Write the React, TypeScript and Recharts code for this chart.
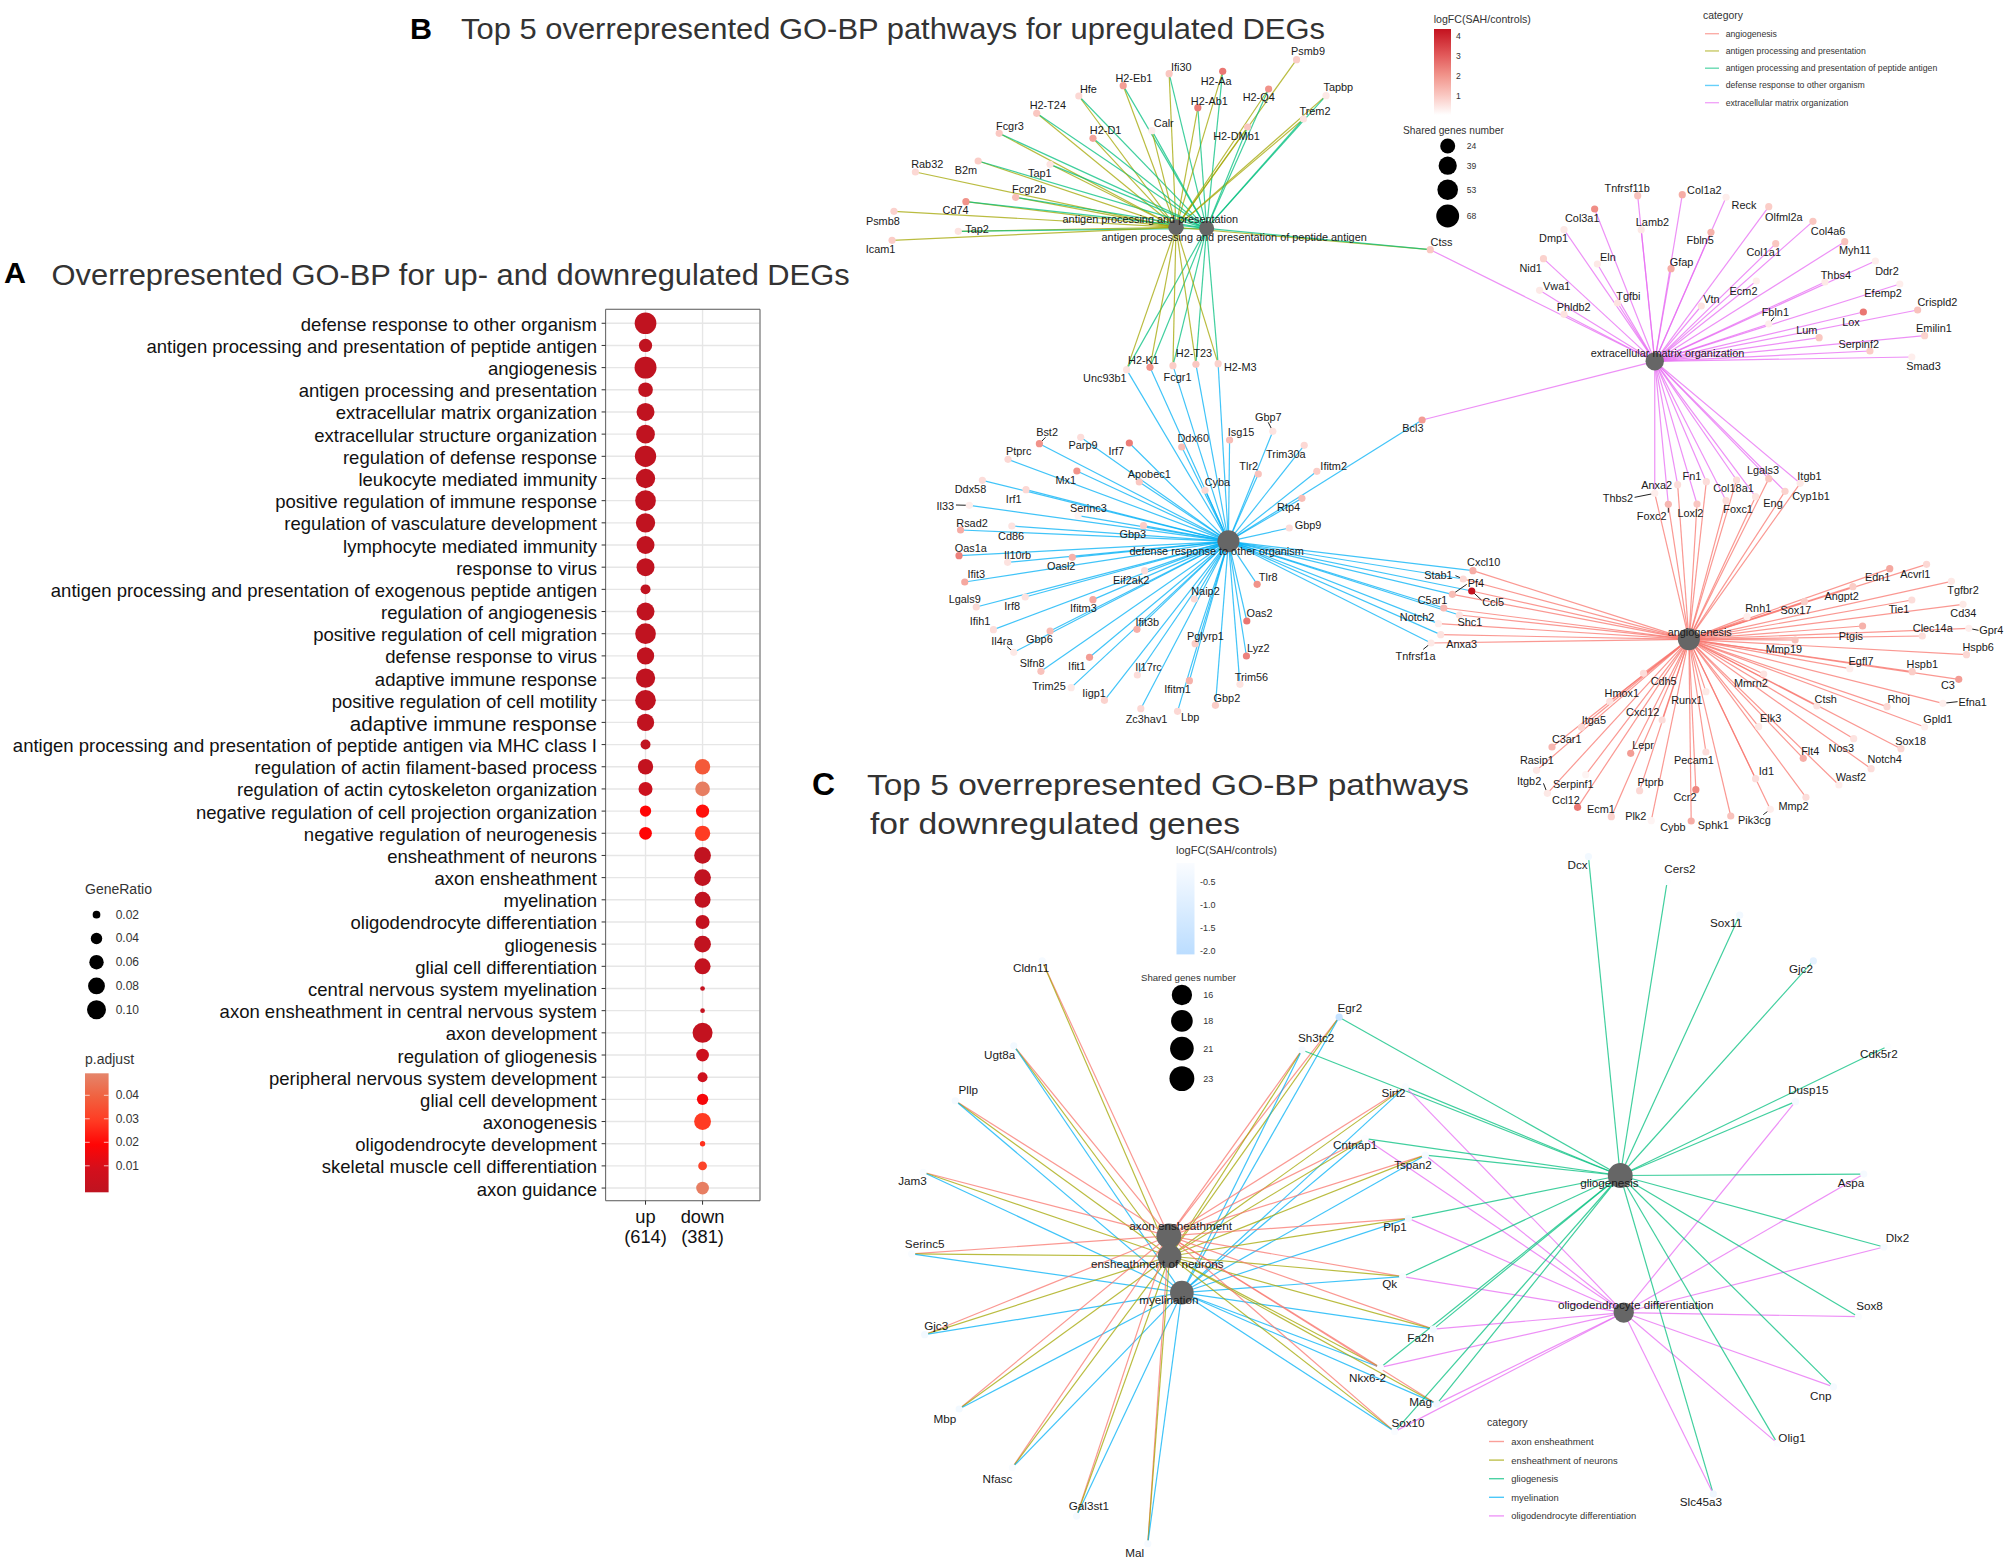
// App.tsx - GO-BP dot plot (A) and gene-concept networks (B, C)
import { CartesianGrid, ReferenceArea, Scatter, ScatterChart, XAxis, YAxis } from "recharts";

const FONT = "'Liberation Sans', Arial, sans-serif";

// ---------- panel A ----------
const terms = [
  "defense response to other organism", "antigen processing and presentation of peptide antigen", "angiogenesis",
  "antigen processing and presentation", "extracellular matrix organization", "extracellular structure organization",
  "regulation of defense response", "leukocyte mediated immunity", "positive regulation of immune response",
  "regulation of vasculature development", "lymphocyte mediated immunity", "response to virus",
  "antigen processing and presentation of exogenous peptide antigen", "regulation of angiogenesis",
  "positive regulation of cell migration", "defense response to virus", "adaptive immune response",
  "positive regulation of cell motility", "adaptive immune response",
  "antigen processing and presentation of peptide antigen via MHC class I", "regulation of actin filament-based process",
  "regulation of actin cytoskeleton organization", "negative regulation of cell projection organization",
  "negative regulation of neurogenesis", "ensheathment of neurons", "axon ensheathment", "myelination",
  "oligodendrocyte differentiation", "gliogenesis", "glial cell differentiation", "central nervous system myelination",
  "axon ensheathment in central nervous system", "axon development", "regulation of gliogenesis",
  "peripheral nervous system development", "glial cell development", "axonogenesis", "oligodendrocyte development",
  "skeletal muscle cell differentiation", "axon guidance",
];
const upRatio = [.128, .052, .131, .062, .09, .097, .124, .103, .117, .103, .09, .09, .031, .09, .117, .084, .103, .117, .084, .031, .067, .057, .039, .048];
const upPadj = [.0005, .0005, .0005, .0005, .0005, .0005, .0005, .0005, .0005, .0005, .0005, .0005, .0005, .0005, .0005, .0005, .0005, .0005, .0005, .001, .002, .006, .02, .02];
const downRatio = [.067, .062, .052, .067, .079, .079, .073, .057, .079, .073, .009, .009, .11, .048, .031, .039, .08, .011, .025, .048];
const downPadj = [.038, .048, .022, .03, .001, .001, .001, .002, .001, .002, .003, .003, .002, .006, .007, .018, .03, .028, .032, .048];
const groupLabels = [["up", "(614)"], ["down", "(381)"]];
const ratioLegend = [.02, .04, .06, .08, .1];
const padjLegend = [.04, .03, .02, .01];

const mix = (stops: [number, string][], v: number) => {
  const s = [...stops].sort((a, b) => a[0] - b[0]);
  if (v <= s[0][0]) return s[0][1];
  for (let i = 1; i < s.length; i++) {
    if (v <= s[i][0]) {
      const t = (v - s[i - 1][0]) / (s[i][0] - s[i - 1][0]);
      const a = s[i - 1][1], b = s[i][1];
      const c = [1, 3, 5].map((p) => {
        const ca = parseInt(a.slice(p, p + 2), 16), cb = parseInt(b.slice(p, p + 2), 16);
        return Math.round(ca + (cb - ca) * t);
      });
      return `rgb(${c.join(",")})`;
    }
  }
  return s[s.length - 1][1];
};
const padjStops: [number, string][] = [[0, "#BF1320"], [.01, "#D40F1C"], [.02, "#FF0505"], [.03, "#FF3B23"], [.04, "#F1613F"], [.05, "#E5856B"]];
const upStops: [number, string][] = [[0, "#FFFFFF"], [1, "#FAC7C1"], [2, "#F1938A"], [3, "#E2595A"], [4.3, "#C4121F"]];
const downStops: [number, string][] = [[-2.1, "#BBDDFF"], [0, "#FFFFFF"]];
const ratioD = (r: number) => 64.6 * Math.sqrt(r) - 1.43;

const dotRows = [
  ...upRatio.map((ratio, i) => ({ x: 1, y: i + 1, ratio, padj: upPadj[i] })),
  ...downRatio.map((ratio, i) => ({ x: 2, y: i + 21, ratio, padj: downPadj[i] })),
];

// ---------- networks: [gene, node x, node y, label x, label y, logFC, categories] ----------
type G = [string, number, number, number, number, number, string];
type Area = { x0: number; y0: number; sx: number; sy: number };
const areaB1: Area = { x0: 840, y0: 0, sx: 2.613, sy: 3 };
const areaB2: Area = { x0: 1400, y0: 0, sx: 2.579, sy: 3 };
const areaB3: Area = { x0: 840, y0: 380, sx: 2.613, sy: 3 };
const areaB4: Area = { x0: 1400, y0: 400, sx: 2.579, sy: 3 };
const areaC1: Area = { x0: 860, y0: 840, sx: 2.613, sy: 2.167 };
const areaC2: Area = { x0: 1400, y0: 840, sx: 2.579, sy: 2.167 };

const antigenGenes: G[] = [
  ["Psmb9", 1193, 179, 1223, 153, .9, "a"], ["Ifi30", 860, 221, 892, 200, 1, "aq"], ["H2-Aa", 1000, 214, 983, 243, 2.5, "aq"],
  ["H2-Eb1", 740, 257, 768, 235, 1.8, "aq"], ["Hfe", 624, 288, 649, 266, .7, "aq"], ["H2-T24", 514, 340, 543, 315, 1, "aq"],
  ["H2-Ab1", 935, 323, 965, 303, 2.4, "aq"], ["H2-Q4", 1120, 267, 1094, 291, 2, "aq"], ["Tapbp", 1270, 287, 1302, 262, .4, "aq"],
  ["Trem2", 1211, 357, 1241, 334, .5, "aq"], ["Fcgr3", 416, 400, 444, 377, 1, "aq"], ["H2-D1", 661, 415, 694, 389, 1.7, "aq"],
  ["Calr", 815, 392, 846, 370, .3, "aq"], ["H2-DMb1", 1065, 381, 1036, 407, 1, "aq"], ["B2m", 361, 483, 329, 511, .9, "aq"],
  ["Rab32", 197, 516, 228, 492, .7, "a"], ["Tap1", 549, 493, 522, 518, .5, "aq"], ["Fcgr2b", 459, 592, 494, 566, 1.2, "aq"],
  ["Cd74", 329, 605, 302, 631, 2, "aq"], ["Psmb8", 141, 634, 112, 662, .8, "a"], ["Tap2", 309, 694, 358, 686, .5, "aq"],
  ["Icam1", 136, 721, 106, 747, .9, "a"], ["Unc93b1", 749, 1109, 692, 1135, .5, "aqd"], ["H2-K1", 810, 1102, 793, 1080, 2, "aqd"],
  ["Fcgr1", 870, 1097, 882, 1132, .9, "aqd"], ["H2-T23", 930, 1093, 925, 1060, 1, "aqd"], ["H2-M3", 988, 1091, 1046, 1100, .8, "aqd"],
];
const matrixGenes: G[] = [
  ["Ctss", 78, 749, 107, 726, 1, "aqe"], ["Tnfrsf11b", 613, 587, 586, 565, 1.1, "e"], ["Col1a2", 728, 584, 785, 571, 1.5, "e"],
  ["Reck", 841, 592, 887, 614, .3, "e"], ["Olfml2a", 951, 620, 990, 652, .9, "e"], ["Col3a1", 502, 627, 470, 655, 2.1, "e"],
  ["Lamb2", 622, 689, 651, 665, .4, "e"], ["Dmp1", 423, 689, 396, 715, .4, "e"], ["Col4a6", 1065, 664, 1104, 694, 1, "e"],
  ["Fbln5", 802, 697, 774, 721, 1.4, "e"], ["Col1a1", 969, 731, 938, 755, 1, "e"], ["Myh11", 1147, 725, 1173, 750, 1.1, "e"],
  ["Nid1", 370, 776, 337, 803, .8, "e"], ["Eln", 509, 792, 536, 770, .4, "e"], ["Gfap", 699, 806, 726, 786, 1.5, "e"],
  ["Ddr2", 1226, 783, 1256, 812, .3, "e"], ["Ecm2", 919, 843, 886, 873, .3, "e"], ["Thbs4", 1096, 846, 1124, 824, .4, "e"],
  ["Vwa1", 360, 871, 404, 859, .4, "e"], ["Efemp2", 1289, 852, 1246, 880, .3, "e"], ["Vtn", 777, 918, 803, 896, .5, "e"],
  ["Tgfbi", 561, 909, 589, 888, .5, "e"], ["Phldb2", 423, 943, 448, 922, .5, "e"], ["Crispld2", 1335, 930, 1386, 906, 1.1, "e"],
  ["Lox", 1195, 936, 1163, 965, 2.5, "e"], ["Fbln1", 951, 972, 968, 936, .3, "e"], ["Lum", 1081, 1013, 1049, 989, 1, "e"],
  ["Emilin1", 1353, 1007, 1377, 985, .8, "e"], ["Serpinf2", 1212, 1053, 1183, 1031, .9, "e"], ["Smad3", 1320, 1071, 1350, 1098, .3, "e"],
];
const defenseGenes: G[] = [
  ["Bst2", 521, 191, 541, 155, 2, "d"], ["Parp9", 629, 172, 635, 196, .6, "d"], ["Irf7", 756, 189, 722, 213, 2.4, "d"],
  ["Ddx60", 893, 201, 923, 175, 1.2, "d"], ["Isg15", 1018, 180, 1048, 157, 1.2, "d"], ["Gbp7", 1131, 154, 1119, 110, .5, "d"],
  ["Trim30a", 1213, 196, 1165, 222, .7, "d"], ["Ptprc", 439, 238, 467, 214, .7, "d"], ["Tlr2", 1093, 282, 1068, 257, 1.1, "d"],
  ["Ifitm2", 1246, 274, 1290, 258, .9, "d"], ["Mx1", 619, 273, 590, 300, 2, "d"], ["Apobec1", 782, 306, 808, 283, 1, "d"],
  ["Cyba", 954, 331, 986, 307, .7, "d"], ["Ddx58", 372, 301, 341, 328, .6, "d"], ["Irf1", 486, 329, 454, 356, .7, "d"],
  ["Rtp4", 1207, 355, 1172, 382, 1.2, "d"], ["Il33", 338, 376, 275, 377, .3, "d"], ["Serinc3", 622, 407, 649, 384, .2, "d"],
  ["Gbp3", 793, 437, 765, 462, .9, "d"], ["Rsad2", 315, 450, 345, 428, 1.5, "d"], ["Cd86", 449, 438, 447, 468, .5, "d"],
  ["Gbp9", 1174, 444, 1223, 434, .6, "d"], ["Oas1a", 311, 527, 342, 503, 2.3, "d"], ["Il10rb", 438, 547, 464, 526, .5, "d"],
  ["Oasl2", 607, 532, 578, 558, 1.4, "d"], ["Ifit3", 326, 606, 356, 581, 1.6, "d"], ["Eif2ak2", 796, 572, 761, 601, .6, "d"],
  ["Tlr8", 1090, 613, 1119, 591, 2, "d"], ["Naip2", 926, 657, 955, 633, .7, "d"], ["Lgals9", 356, 681, 326, 657, .7, "d"],
  ["Irf8", 484, 651, 450, 678, .5, "d"], ["Ifitm3", 661, 659, 636, 684, 1.6, "d"], ["Oas2", 1063, 723, 1096, 699, 2.5, "d"],
  ["Ifih1", 401, 749, 366, 722, .6, "d"], ["Gbp6", 549, 753, 521, 778, 1.2, "d"], ["Ifit3b", 776, 748, 803, 725, 1.5, "d"],
  ["Pglyrp1", 928, 791, 955, 769, .9, "d"], ["Il4ra", 454, 817, 423, 784, .4, "d"], ["Lyz2", 1062, 828, 1093, 805, 2.3, "d"],
  ["Slfn8", 525, 874, 502, 849, 1.1, "d"], ["Ifit1", 652, 832, 619, 858, 1.8, "d"], ["Il17rc", 777, 885, 806, 861, .6, "d"],
  ["Trim56", 1045, 913, 1075, 891, .5, "d"], ["Ifitm1", 913, 902, 882, 928, 1.4, "d"], ["Trim25", 604, 923, 546, 919, .4, "d"],
  ["Iigp1", 691, 961, 664, 940, .8, "d"], ["Gbp2", 981, 976, 1011, 954, .9, "d"], ["Lbp", 882, 994, 915, 1010, .7, "d"],
  ["Zc3hav1", 786, 986, 801, 1017, .7, "d"], ["Bcl3", 1521, 120, 1497, 145, 1.8, "de"],
];
const angioGenes: G[] = [
  ["Cxcl10", 188, 512, 216, 487, 1.5, "dA"], ["Stab1", 163, 537, 99, 524, .7, "dA"], ["Pf4", 135, 583, 196, 550, 1.2, "dA"],
  ["Ccl5", 185, 573, 240, 606, 4.3, "dA"], ["C5ar1", 113, 624, 84, 600, 1.3, "dA"], ["Shc1", 153, 645, 180, 667, .5, "dA"],
  ["Notch2", 99, 671, 44, 652, .3, "dA"], ["Anxa3", 105, 704, 159, 733, .5, "dA"], ["Tnfrsf1a", 80, 729, 40, 767, .4, "dA"],
  ["Anxa2", 716, 254, 662, 256, .6, "eA"], ["Thbs2", 657, 280, 562, 294, .3, "eA"], ["Fn1", 790, 245, 753, 227, .6, "eA"],
  ["Foxc2", 692, 313, 649, 347, 1.3, "eA"], ["Loxl2", 766, 312, 749, 338, 1, "eA"], ["Col18a1", 868, 240, 860, 263, .6, "eA"],
  ["Foxc1", 841, 302, 872, 328, .6, "eA"], ["Lgals3", 951, 236, 936, 210, 1, "eA"], ["Eng", 917, 290, 962, 310, .5, "eA"],
  ["Itgb1", 1032, 250, 1056, 228, .4, "eA"], ["Cyp1b1", 993, 274, 1060, 289, .8, "eA"],
  ["Edn1", 1263, 506, 1232, 531, 1.6, "A"], ["Acvrl1", 1358, 493, 1329, 521, .7, "A"], ["Tgfbr2", 1422, 544, 1452, 571, .4, "A"],
  ["Angpt2", 1168, 560, 1139, 587, .9, "A"], ["Sox17", 1043, 605, 1021, 629, .9, "A"], ["Rnh1", 895, 650, 924, 625, .3, "A"],
  ["Tie1", 1320, 600, 1287, 627, .6, "A"], ["Cd34", 1452, 613, 1453, 638, .4, "A"], ["Clec14a", 1347, 708, 1374, 685, .6, "A"],
  ["Ptgis", 1193, 678, 1163, 707, 1.4, "A"], ["Gpr4", 1467, 685, 1525, 691, .3, "A"], ["Mmp19", 1019, 720, 990, 746, 1.1, "A"],
  ["Hspb6", 1461, 764, 1491, 741, .7, "A"], ["Egfl7", 1160, 806, 1189, 783, .3, "A"], ["Hspb1", 1321, 815, 1347, 791, .9, "A"],
  ["C3", 1441, 838, 1413, 856, 1.8, "A"], ["Mmrn2", 938, 822, 905, 849, .5, "A"], ["Ctsh", 1075, 918, 1098, 897, .5, "A"],
  ["Efna1", 1400, 910, 1477, 906, .3, "A"], ["Rhoj", 1256, 920, 1286, 897, .7, "A"], ["Gpld1", 1353, 981, 1387, 956, .3, "A"],
  ["Sox18", 1292, 1046, 1317, 1024, .7, "A"], ["Elk3", 925, 980, 956, 955, .4, "A"], ["Nos3", 1170, 1016, 1138, 1044, .5, "A"],
  ["Flt4", 1040, 1075, 1058, 1052, 1.5, "A"], ["Notch4", 1215, 1106, 1250, 1078, .6, "A"], ["Wasf2", 1132, 1155, 1163, 1130, .3, "A"],
  ["Id1", 917, 1136, 945, 1114, .6, "A"], ["Mmp2", 1047, 1192, 1015, 1218, .6, "A"], ["Pik3cg", 955, 1228, 914, 1261, .3, "A"],
  ["Sphk1", 853, 1248, 808, 1275, 1.1, "A"], ["Cybb", 751, 1263, 704, 1281, 1.5, "A"], ["Ccr2", 763, 1169, 735, 1192, 2.2, "A"],
  ["Pecam1", 789, 1056, 758, 1080, .6, "A"], ["Runx1", 789, 875, 740, 901, .4, "A"], ["Cdh5", 628, 820, 680, 843, .6, "A"],
  ["Hmox1", 541, 904, 572, 879, .5, "A"], ["Cxcl12", 676, 960, 626, 936, .6, "A"], ["Itga5", 468, 982, 500, 960, .7, "A"],
  ["C3ar1", 392, 1041, 430, 1016, 1.3, "A"], ["Lepr", 595, 1060, 627, 1036, 1.8, "A"], ["Rasip1", 352, 1111, 353, 1081, .4, "A"],
  ["Serpinf1", 479, 1124, 447, 1153, .2, "A"], ["Ptprb", 618, 1172, 646, 1147, .7, "A"], ["Itgb2", 380, 1180, 333, 1144, .4, "A"],
  ["Ccl12", 458, 1222, 428, 1199, 2.5, "A"], ["Ecm1", 545, 1250, 518, 1226, .8, "A"], ["Plk2", 648, 1262, 608, 1247, .2, "A"],
];
const myelinGenes: G[] = [
  ["Cldn11", 476, 262, 447, 280, -.3, "xn"], ["Ugt8a", 402, 446, 365, 469, -.4, "xnm"], ["Pllp", 249, 565, 283, 543, -.3, "xnm"],
  ["Jam3", 165, 720, 137, 741, -.2, "xnm"], ["Serinc5", 135, 897, 169, 878, -.2, "xnm"], ["Gjc3", 169, 1072, 199, 1055, -.4, "xnm"],
  ["Mbp", 259, 1233, 222, 1256, -.4, "xnm"], ["Nfasc", 398, 1360, 359, 1387, -.2, "xnm"], ["Gal3st1", 566, 1465, 598, 1446, -.3, "xnm"],
  ["Mal", 752, 1525, 718, 1547, -.3, "xnm"], ["Egr2", 1252, 384, 1280, 366, -1.8, "xnmg"], ["Sh3tc2", 1155, 455, 1192, 431, -.3, "xnmg"],
  ["Sirt2", 1425, 535, 1394, 551, -.2, "xnmgo"], ["Cntnap1", 1320, 647, 1294, 663, -.1, "xnmgo"], ["Tspan2", 1477, 683, 1445, 706, -.3, "xnmgo"],
  ["Plp1", 1433, 820, 1398, 841, -.4, "xnmgo"], ["Qk", 1418, 946, 1384, 965, -.2, "xnmgo"], ["Fa2h", 1498, 1060, 1465, 1082, -.4, "xnmgo"],
  ["Nkx6-2", 1360, 1143, 1326, 1167, -.2, "xnmgo"], ["Mag", 1507, 1222, 1465, 1219, -.4, "xnmgo"], ["Sox10", 1397, 1282, 1432, 1265, -.2, "xnmgo"],
];
const gliaGenes: G[] = [
  ["Dcx", 486, 36, 458, 56, -.4, "g"], ["Cers2", 689, 90, 722, 64, -.1, "g"], ["Sox11", 876, 163, 841, 183, -.4, "g"],
  ["Gjc2", 1066, 262, 1034, 282, -.8, "g"], ["Cdk5r2", 1258, 447, 1235, 465, -.1, "g"], ["Dusp15", 1020, 567, 1053, 544, -.3, "go"],
  ["Aspa", 1196, 724, 1163, 746, -.3, "go"], ["Dlx2", 1248, 882, 1283, 864, -.3, "go"], ["Sox8", 1182, 1033, 1211, 1013, -.2, "go"],
  ["Cnp", 1118, 1185, 1085, 1206, -.3, "go"], ["Olig1", 973, 1307, 1011, 1298, -.1, "go"], ["Slc45a3", 808, 1417, 776, 1436, -.5, "go"],
];
// hubs: [key, term, area, x, y, label x, label y, shared genes]
const hubsB: [string, string, Area, number, number, number, number, number][] = [
  ["a", "antigen processing and presentation", areaB1, 878, 682, 811, 656, 26],
  ["q", "antigen processing and presentation of peptide antigen", areaB1, 958, 685, 1030, 712, 24],
  ["e", "extracellular matrix organization", areaB2, 657, 1084, 690, 1060, 40],
  ["d", "defense response to other organism", areaB3, 1015, 484, 984, 514, 62],
  ["A", "angiogenesis", areaB4, 745, 718, 773, 696, 62],
];
const hubsC: [string, string, Area, number, number, number, number, number][] = [
  ["x", "axon ensheathment", areaC1, 807, 858, 838, 838, 23],
  ["n", "ensheathment of neurons", areaC1, 809, 902, 777, 921, 21],
  ["m", "myelination", areaC1, 841, 981, 807, 1000, 21],
  ["g", "gliogenesis", areaC2, 568, 727, 540, 746, 23],
  ["o", "oligodendrocyte differentiation", areaC2, 577, 1024, 608, 1010, 16],
];
// short repel segments from a gene dot towards its label
const leaders: [string, Area, number, number][] = [
  ["Bst2", areaB3, 537, 172], ["Gbp7", areaB3, 1119, 127], ["Il33", areaB3, 303, 375], ["Il4ra", areaB3, 437, 800],
  ["Tnfrsf1a", areaB4, 60, 748], ["Stab1", areaB4, 143, 527], ["Pf4", areaB4, 172, 553], ["Ccl5", areaB4, 210, 600],
  ["Thbs2", areaB4, 605, 292], ["Foxc2", areaB4, 692, 338], ["Itgb2", areaB4, 370, 1150], ["Pik3cg", areaB4, 937, 1244],
  ["Gpr4", areaB4, 1492, 691], ["Efna1", areaB4, 1438, 905], ["Fbln1", areaB2, 965, 952],
];
const categoryColor: Record<string, string> = {
  A: "#F8766D", a: "#A3A500", q: "#00BF7D", d: "#00B0F6", e: "#E76BF3",
  x: "#F8766D", n: "#A3A500", g: "#00BF7D", m: "#00B0F6", o: "#E76BF3",
};
const legendB = [["A", "angiogenesis"], ["a", "antigen processing and presentation"], ["q", "antigen processing and presentation of peptide antigen"], ["d", "defense response to other organism"], ["e", "extracellular matrix organization"]];
const legendC = [["x", "axon ensheathment"], ["n", "ensheathment of neurons"], ["g", "gliogenesis"], ["m", "myelination"], ["o", "oligodendrocyte differentiation"]];
const logfcTicksB = [4, 3, 2, 1];
const logfcTicksC = [-.5, -1, -1.5, -2];
const sharedB = [24, 39, 53, 68];
const sharedC = [16, 18, 21, 23];
const hubDB = (n: number) => 2.36 * Math.sqrt(n) + 3.45;
const hubDC = (n: number) => 5.75 * Math.sqrt(n) - 2.7;

const px = (a: Area, X: number) => a.x0 + X / a.sx;
const py = (a: Area, Y: number) => a.y0 + Y / a.sy;

const FS_B = 10.9;
const FS_C = 11.7;
const geneRows = (rows: G[], a: Area, fs: number, stops: [number, string][], dy: number) =>
  rows.map(([gene, nx, ny, lx, ly, fc, cats]) => ({
    gene, x: px(a, nx), y: py(a, ny), lx: px(a, lx), ly: py(a, ly) + dy, fill: mix(stops, fc), cats, fs,
  }));
const nodesB = [
  ...geneRows(antigenGenes, areaB1, FS_B, upStops, 0), ...geneRows(matrixGenes, areaB2, FS_B, upStops, 0),
  ...geneRows(defenseGenes, areaB3, FS_B, upStops, 0), ...geneRows(angioGenes, areaB4, FS_B, upStops, 0),
];
const nodesC = [...geneRows(myelinGenes, areaC1, FS_C, downStops, -1.5), ...geneRows(gliaGenes, areaC2, FS_C, downStops, -1.5)];
const hubRows = [
  ...hubsB.map(([key, term, a, x, y, lx, ly, n]) => ({ key, term, x: px(a, x), y: py(a, y), lx: px(a, lx), ly: py(a, ly), r: hubDB(n) / 2, fs: FS_B })),
  ...hubsC.map(([key, term, a, x, y, lx, ly, n]) => ({ key, term, x: px(a, x), y: py(a, y), lx: px(a, lx), ly: py(a, ly) - 1.5, r: hubDC(n) / 2, fs: FS_C })),
];
const allNodes = [...nodesB, ...nodesC];
const edges = allNodes.flatMap((node) =>
  node.cats.split("").map((c) => {
    const hub = hubRows.find((h) => h.key === c)!;
    return { id: `${node.gene}-${c}`, color: categoryColor[c], points: [{ x: hub.x, y: hub.y }, { x: node.x, y: node.y }] };
  }),
);
const leaderRows = leaders.map(([gene, a, X, Y]) => {
  const node = allNodes.find((n) => n.gene === gene)!;
  return { id: gene, points: [{ x: node.x, y: node.y }, { x: px(a, X), y: py(a, Y) }] };
});
const labelRows = [
  ...allNodes.map((n) => ({ x: n.lx, y: n.ly, text: n.gene, fs: n.fs })),
  ...hubRows.map((h) => ({ x: h.lx, y: h.ly, text: h.term, fs: h.fs })),
];

const NoDot = () => <g />;
const GeneDot = (p: any) => <circle cx={p.cx} cy={p.cy} r={3.6} fill={p.payload.fill} />;
const HubDot = (p: any) => <circle cx={p.cx} cy={p.cy} r={p.payload.r} fill="#666666" />;
const LabelDot = (p: any) => (
  <text x={p.cx} y={p.cy} textAnchor="middle" dominantBaseline="central" fontSize={p.payload.fs} fontFamily={FONT} fill="#1a1a1a">
    {p.payload.text}
  </text>
);
const RatioDot = (p: any) => <circle cx={p.cx} cy={p.cy} r={ratioD(p.payload.ratio) / 2} fill={mix(padjStops, p.payload.padj)} />;

const TermTick = (p: any) => {
  const i = p.payload.value - 1;
  return (
    <text x={597} y={p.y + 1} textAnchor="end" dominantBaseline="central" fontSize={i === 18 ? 20.6 : 18.5} fontFamily={FONT} fill="#111">
      {terms[i]}
    </text>
  );
};
const GroupTick = (p: any) => {
  const lines = groupLabels[p.payload.value - 1];
  return (
    <text textAnchor="middle" fontSize={18.3} fontFamily={FONT} fill="#111">
      <tspan x={p.x} y={1223 - 300}>{lines[0]}</tspan>
      <tspan x={p.x} y={1243 - 300}>{lines[1]}</tspan>
    </text>
  );
};

const Txt = ({ x, y, size, children, len, weight, color = "#333", anchor = "start" }: any) => (
  <text x={x} y={y} fontSize={size} fontFamily={FONT} fontWeight={weight} fill={color} textAnchor={anchor}
    dominantBaseline={len ? undefined : "central"} textLength={len} lengthAdjust={len ? "spacingAndGlyphs" : undefined}>
    {children}
  </text>
);

const rowTicks = terms.map((_, i) => i + 1);

export default function App() {
  return (
    <div style={{ position: "absolute", left: 0, top: 0, width: 2008, height: 1561, background: "#fff", overflow: "hidden" }}>
      {/* networks B and C */}
      <div style={{ position: "absolute", left: 0, top: 0 }}>
        <ScatterChart width={2008} height={1561} margin={{ top: 0, right: 0, bottom: 0, left: 0 }}>
          <XAxis type="number" dataKey="x" domain={[0, 2008]} hide />
          <YAxis type="number" dataKey="y" domain={[0, 1561]} reversed hide />
          {edges.map((e) => (
            <Scatter key={e.id} data={e.points} shape={NoDot} isAnimationActive={false}
              line={{ stroke: e.color, strokeWidth: 1.2, strokeOpacity: 0.75 }} />
          ))}
          {leaderRows.map((l) => (
            <Scatter key={l.id} data={l.points} shape={NoDot} isAnimationActive={false}
              line={{ stroke: "#222", strokeWidth: 1 }} />
          ))}
          <Scatter data={allNodes} shape={GeneDot} isAnimationActive={false} />
          <Scatter data={hubRows} shape={HubDot} isAnimationActive={false} />
          <Scatter data={labelRows} shape={LabelDot} isAnimationActive={false} />
        </ScatterChart>
      </div>

      {/* dot plot A */}
      <div style={{ position: "absolute", left: 0, top: 300 }}>
        <ScatterChart width={770} height={950} margin={{ top: 9.3, right: 10, bottom: 0, left: 0 }}>
          <CartesianGrid stroke="#e6e6e6" strokeWidth={1.4} />
          <XAxis type="number" dataKey="x" domain={[0.3, 3.007]} ticks={[1, 2]} height={49.3} axisLine={false}
            tickLine={{ stroke: "#333" }} tickSize={4} tick={GroupTick} interval={0} />
          <YAxis type="number" dataKey="y" domain={[0.37, 40.57]} reversed ticks={rowTicks} width={605.6} axisLine={false}
            tickLine={{ stroke: "#333" }} tickSize={4} tick={TermTick} interval={0} />
          <ReferenceArea x1={0.3} x2={3.007} y1={0.37} y2={40.57} fill="none" stroke="#666" strokeWidth={1} />
          <Scatter data={dotRows} shape={RatioDot} isAnimationActive={false} />
        </ScatterChart>
      </div>

      {/* titles and legends */}
      <svg width={2008} height={1561} style={{ position: "absolute", left: 0, top: 0, pointerEvents: "none" }}>
        <defs>
          <linearGradient id="padjBar" x1="0" y1="0" x2="0" y2="1">
            {[.05, .04, .03, .02, .01, 0].map((v, i) => <stop key={v} offset={i / 5} stopColor={mix(padjStops, v)} />)}
          </linearGradient>
          <linearGradient id="upBar" x1="0" y1="0" x2="0" y2="1">
            {[4.3, 3, 2, 1, 0].map((v) => <stop key={v} offset={(4.3 - v) / 4.3} stopColor={mix(upStops, v)} />)}
          </linearGradient>
          <linearGradient id="downBar" x1="0" y1="0" x2="0" y2="1">
            <stop offset={0} stopColor="#FAFCFF" />
            <stop offset={1} stopColor="#BBDDFF" />
          </linearGradient>
        </defs>

        <Txt x={4} y={283} size={30} weight="bold" color="#000" len={22}>A</Txt>
        <Txt x={51.6} y={284.5} size={29} len={798}>Overrepresented GO-BP for up- and downregulated DEGs</Txt>
        <Txt x={410} y={39} size={30} weight="bold" color="#000" len={22}>B</Txt>
        <Txt x={461} y={38.5} size={29} len={864}>Top 5 overrepresented GO-BP pathways for upregulated DEGs</Txt>
        <Txt x={812} y={795} size={31} weight="bold" color="#000" len={23}>C</Txt>
        <Txt x={867} y={795} size={29} len={602}>Top 5 overrepresented GO-BP pathways</Txt>
        <Txt x={870} y={834} size={29} len={370}>for downregulated genes</Txt>

        {/* A legends */}
        <Txt x={85} y={888.7} size={14}>GeneRatio</Txt>
        {ratioLegend.map((r, i) => (
          <g key={r}>
            <circle cx={96.5} cy={914.7 + i * 23.75} r={ratioD(r) / 2} fill="#000" />
            <Txt x={115.7} y={914.7 + i * 23.75} size={12}>{r.toFixed(2)}</Txt>
          </g>
        ))}
        <Txt x={85} y={1059} size={14}>p.adjust</Txt>
        <rect x={85} y={1073.3} width={23.6} height={119} fill="url(#padjBar)" />
        {padjLegend.map((v, i) => (
          <g key={v}>
            <line x1={85} x2={89.7} y1={1095.3 + i * 23.5} y2={1095.3 + i * 23.5} stroke="#fff" strokeOpacity={0.7} />
            <line x1={103.9} x2={108.6} y1={1095.3 + i * 23.5} y2={1095.3 + i * 23.5} stroke="#fff" strokeOpacity={0.7} />
            <Txt x={115.7} y={1095.3 + i * 23.5} size={12}>{v.toFixed(2)}</Txt>
          </g>
        ))}

        {/* B legends */}
        <Txt x={1433.7} y={19} size={10.6}>logFC(SAH/controls)</Txt>
        <rect x={1434} y={29} width={17} height={86} fill="url(#upBar)" />
        {logfcTicksB.map((v, i) => <Txt key={v} x={1456} y={35.7 + i * 20} size={8.6}>{v}</Txt>)}
        <Txt x={1403} y={130} size={10.2}>Shared genes number</Txt>
        {sharedB.map((n, i) => (
          <g key={n}>
            <circle cx={1447.7} cy={[146, 165.7, 189.7, 216][i]} r={hubDB(n) / 2} fill="#000" />
            <Txt x={1466.7} y={[146, 165.7, 189.7, 216][i]} size={8.6}>{n}</Txt>
          </g>
        ))}
        <Txt x={1703} y={15} size={10.4}>category</Txt>
        {legendB.map(([k, t], i) => (
          <g key={k}>
            <line x1={1705} x2={1719} y1={33.7 + i * 17.25} y2={33.7 + i * 17.25} stroke={categoryColor[k]} strokeOpacity={0.6} strokeWidth={1.4} />
            <Txt x={1725.7} y={33.7 + i * 17.25} size={8.7}>{t}</Txt>
          </g>
        ))}

        {/* C legends */}
        <Txt x={1176} y={850} size={11}>logFC(SAH/controls)</Txt>
        <rect x={1176.5} y={863} width={18} height={91.4} fill="url(#downBar)" />
        {logfcTicksC.map((v, i) => <Txt key={v} x={1200} y={881.5 + i * 23.1} size={9}>{v.toFixed(1)}</Txt>)}
        <Txt x={1141} y={977.5} size={9.6}>Shared genes number</Txt>
        {sharedC.map((n, i) => (
          <g key={n}>
            <circle cx={1181.9} cy={[995, 1020.9, 1048.6, 1078.6][i]} r={hubDC(n) / 2} fill="#000" />
            <Txt x={1203.3} y={[995, 1020.9, 1048.6, 1078.6][i]} size={9}>{n}</Txt>
          </g>
        ))}
        <Txt x={1487} y={1421.5} size={10.6}>category</Txt>
        {legendC.map(([k, t], i) => (
          <g key={k}>
            <line x1={1489} x2={1504} y1={1441.5 + i * 18.6} y2={1441.5 + i * 18.6} stroke={categoryColor[k]} strokeOpacity={0.7} strokeWidth={1.4} />
            <Txt x={1511.3} y={1441.5 + i * 18.6} size={9.4}>{t}</Txt>
          </g>
        ))}
      </svg>
    </div>
  );
}
